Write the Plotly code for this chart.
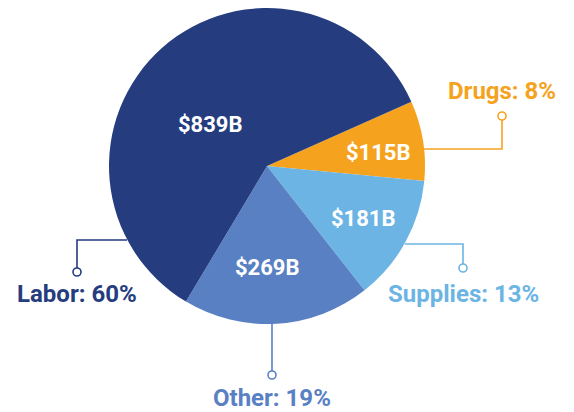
import plotly.graph_objects as go

categories = ["Drugs", "Supplies", "Other", "Labor"]
values_billion = [115, 181, 269, 839]
percent_labels = [8, 13, 19, 60]
colors = ["#F5A31E", "#6CB4E4", "#5A80C4", "#253C7E"]

W, H = 574, 412
cx, cy, r = 267, 166, 158

fig = go.Figure(go.Pie(
    labels=categories,
    values=values_billion,
    sort=False,
    direction="clockwise",
    rotation=66,
    marker=dict(colors=colors, line=dict(width=0)),
    textinfo="none",
    hoverinfo="label+value",
    showlegend=False,
    domain=dict(x=[(cx - r) / W, (cx + r) / W], y=[1 - (cy + r) / H, 1 - (cy - r) / H]),
))

def px(x):
    return x / W

def py(y):
    return 1 - y / H

# layout positions (pixels) for each category's labels and leader lines
layout_pos = {
    "Drugs": dict(pts=[(424, 149), (502, 149), (502, 120)], circ=(502, 116), lab=(502, 91), val=(378, 153)),
    "Supplies": dict(pts=[(405, 244), (463, 244), (463, 264)], circ=(463, 268), lab=(463, 294), val=(363, 218)),
    "Other": dict(pts=[(272, 323), (272, 371)], circ=(272, 375), lab=(272, 398), val=(267, 267)),
    "Labor": dict(pts=[(127, 240), (77, 240), (77, 268)], circ=(77, 272), lab=(77, 294), val=(210, 125)),
}

shapes = []
annotations = []
for name, val, pct, col in zip(categories, values_billion, percent_labels, colors):
    L = layout_pos[name]
    path = "M " + " L ".join(f"{px(x)},{py(y)}" for x, y in L["pts"])
    shapes.append(dict(type="path", xref="paper", yref="paper", path=path,
                       line=dict(color=col, width=1.6)))
    ccx, ccy = L["circ"]
    shapes.append(dict(type="circle", xref="paper", yref="paper",
                       x0=px(ccx - 4), x1=px(ccx + 4), y0=py(ccy + 4), y1=py(ccy - 4),
                       line=dict(color=col, width=1.6), fillcolor="white"))
    lx, ly = L["lab"]
    annotations.append(dict(x=px(lx), y=py(ly), xref="paper", yref="paper",
                            text=f"{name}: {pct}%", showarrow=False,
                            xanchor="center", yanchor="middle", borderpad=0,
                            font=dict(family="Roboto", size=24, color=col, weight="bold")))
    vx, vy = L["val"]
    annotations.append(dict(x=px(vx), y=py(vy), xref="paper", yref="paper",
                            text=f"${val}B", showarrow=False,
                            xanchor="center", yanchor="middle", borderpad=0,
                            font=dict(family="Roboto", size=22, color="white", weight="bold")))

fig.update_layout(
    width=W, height=H,
    margin=dict(l=0, r=0, t=0, b=0),
    paper_bgcolor="white",
    plot_bgcolor="white",
    shapes=shapes,
    annotations=annotations,
)

fig.write_html("out.html", config={"displayModeBar": False},
               post_script="document.body.style.margin='0';document.body.style.overflow='hidden';")
